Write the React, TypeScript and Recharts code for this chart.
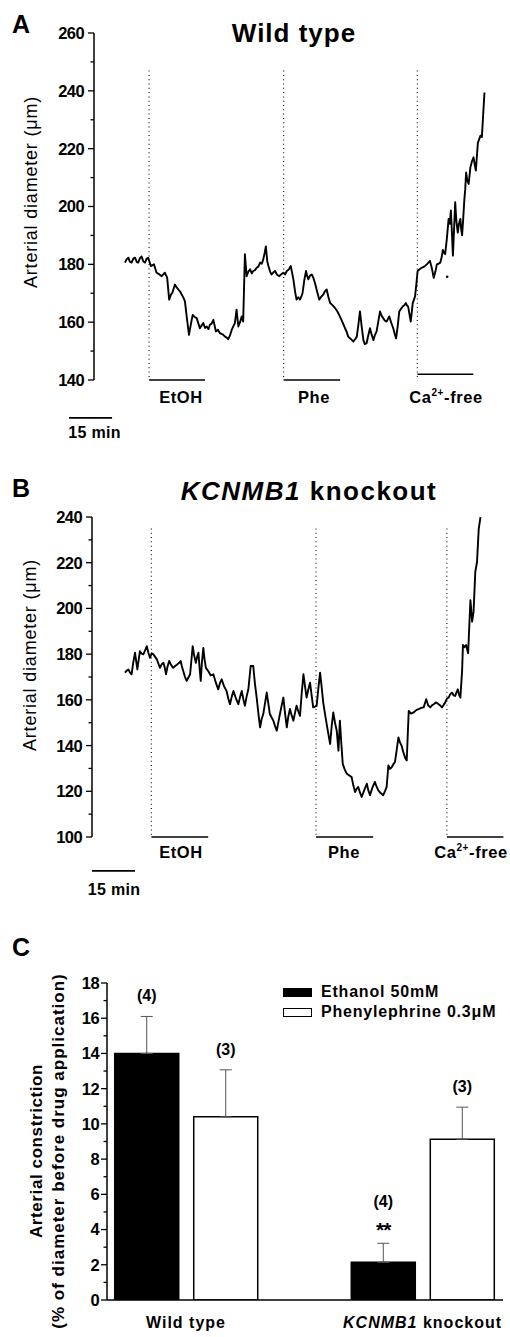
import React from 'react'
import {
  LineChart, Line, XAxis, YAxis, ReferenceLine, ReferenceDot,
  BarChart, Bar, ErrorBar, LabelList, Legend,
} from 'recharts'

const FONT = '"Liberation Sans", Arial, Helvetica, sans-serif'

// Panel A: wild type trace, [time (min), diameter (µm)]
const wildTypeTrace = [
  [10.8, 180.6], [11.4, 181.8], [12.0, 182.3], [12.5, 180.9], [13.1, 180.6], [13.7, 182.0], [14.3, 182.3],
  [14.9, 180.8], [15.4, 180.6], [16.0, 182.1], [16.6, 182.7], [17.2, 181.0], [17.8, 180.6], [18.3, 181.9],
  [18.9, 182.3], [19.8, 179.4], [20.9, 180.0], [21.8, 177.1], [22.7, 176.6], [23.6, 175.9], [24.7, 177.1],
  [25.5, 175.4], [26.2, 167.8], [26.8, 169.5], [27.3, 170.1], [28.2, 173.0], [28.8, 172.0], [29.4, 171.3],
  [30.0, 170.6], [30.6, 169.5], [31.2, 168.4], [31.7, 167.2], [32.3, 162.0], [33.1, 155.6], [33.8, 159.5],
  [34.4, 162.5], [35.1, 161.8], [35.8, 161.4], [36.4, 159.5], [36.9, 157.9], [37.5, 158.8], [38.1, 159.7],
  [38.7, 158.0], [39.3, 158.5], [39.9, 157.6], [40.4, 159.1], [41.0, 159.5], [41.6, 160.8], [42.5, 156.8],
  [43.2, 157.4], [43.9, 156.2], [44.8, 155.8], [45.7, 155.0], [46.3, 154.6], [46.8, 154.1], [47.4, 155.4],
  [48.0, 157.3], [48.6, 158.6], [49.1, 159.7], [49.7, 164.3], [50.3, 158.5], [50.9, 160.0], [51.5, 162.0],
  [52.0, 160.2], [52.6, 183.5], [53.2, 175.9], [53.8, 177.5], [54.4, 178.3], [55.0, 176.9], [55.5, 177.7],
  [56.1, 178.0], [56.7, 178.8], [57.3, 179.2], [57.9, 180.6], [58.5, 180.2], [59.0, 181.7], [59.5, 184.0],
  [59.9, 186.2], [60.4, 181.0], [60.8, 179.4], [61.4, 177.4], [61.9, 176.5], [62.5, 177.2], [63.1, 177.7],
  [63.8, 176.4], [64.6, 175.9], [65.3, 176.6], [66.0, 177.1], [66.6, 176.5], [67.2, 177.7], [67.9, 178.2],
  [68.6, 179.4], [69.5, 174.8], [70.1, 170.5], [70.6, 167.8], [71.2, 168.6], [71.8, 167.8], [72.3, 168.9],
  [72.7, 170.1], [73.3, 174.5], [73.9, 177.7], [74.3, 176.0], [74.7, 174.8], [75.3, 176.1], [75.9, 176.5],
  [76.5, 175.2], [77.0, 173.6], [77.8, 170.4], [78.5, 167.8], [79.2, 168.8], [79.9, 169.5], [80.5, 170.7],
  [81.1, 171.3], [81.7, 168.7], [82.3, 166.6], [83.2, 165.8], [84.0, 164.9], [84.9, 163.6], [85.7, 162.0],
  [86.6, 160.0], [87.5, 157.9], [88.1, 156.6], [88.6, 155.0], [89.5, 154.2], [90.4, 153.3], [91.0, 154.1],
  [91.6, 155.0], [92.2, 159.5], [92.7, 163.7], [93.3, 158.5], [93.9, 153.8], [94.4, 152.4], [95.0, 152.7],
  [95.6, 155.4], [96.2, 157.9], [96.8, 155.6], [97.4, 153.8], [97.9, 155.5], [98.5, 156.8], [99.1, 160.3],
  [99.7, 163.7], [100.2, 162.3], [100.8, 161.4], [101.4, 160.5], [102.0, 160.2], [102.9, 162.0], [103.6, 159.8],
  [104.3, 157.9], [104.8, 156.0], [105.3, 154.4], [105.9, 159.0], [106.4, 163.7], [107.0, 164.6], [107.6, 165.4],
  [108.2, 165.9], [108.7, 166.6], [109.1, 165.8], [109.5, 165.4], [110.0, 162.5], [110.4, 160.2], [110.8, 163.8],
  [111.1, 166.6], [111.9, 168.9], [112.4, 173.5], [112.8, 177.7], [113.5, 178.3], [114.2, 178.8], [115.1, 179.2],
  [116.0, 180.0], [117.1, 181.2], [117.8, 178.5], [118.4, 175.3], [119.0, 177.5], [119.5, 180.0], [120.1, 180.2],
  [120.7, 180.6], [121.2, 182.5], [121.6, 185.0], [122.0, 184.0], [122.4, 183.5], [123.0, 189.0], [123.6, 195.7],
  [124.0, 194.0], [124.4, 198.6], [124.8, 190.0], [125.1, 183.0], [125.5, 192.0], [125.9, 201.5], [126.3, 195.0],
  [126.8, 191.0], [127.2, 194.0], [127.7, 195.7], [128.0, 192.0], [128.3, 190.0], [128.7, 196.0], [129.1, 202.6],
  [129.4, 206.0], [129.7, 211.8], [130.1, 209.0], [130.6, 207.8], [131.2, 213.6], [131.7, 215.5], [132.3, 217.0],
  [132.7, 214.5], [133.1, 212.4], [133.8, 222.0], [134.7, 224.5], [135.2, 224.0], [135.6, 231.0], [136.1, 239.4],
]

// Panel B: KCNMB1 knockout trace, [time (min), diameter (µm)]
const knockoutTrace = [
  [11.5, 171.9], [12.1, 172.8], [12.7, 173.3], [13.2, 172.0], [13.8, 171.2], [14.4, 176.5], [15.0, 180.6],
  [15.8, 173.3], [16.7, 181.3], [17.3, 180.2], [17.9, 179.9], [18.5, 181.6], [19.1, 183.5], [19.6, 180.8],
  [20.2, 178.4], [20.8, 180.4], [21.4, 179.9], [22.0, 178.8], [22.6, 177.7], [23.1, 176.0], [23.7, 174.0],
  [24.3, 175.6], [24.9, 176.2], [25.4, 173.9], [25.8, 171.2], [26.3, 174.5], [26.9, 177.0], [27.6, 175.2],
  [28.3, 174.0], [29.0, 174.8], [29.7, 175.5], [30.3, 176.1], [30.9, 177.0], [31.3, 174.8], [31.8, 172.6],
  [32.4, 170.1], [33.0, 168.3], [33.6, 169.8], [34.2, 171.2], [35.1, 183.5], [35.6, 179.5], [36.2, 176.2],
  [36.6, 178.6], [37.1, 180.6], [37.5, 174.0], [37.9, 168.3], [38.3, 176.2], [38.8, 182.7], [39.2, 178.0],
  [39.7, 174.0], [40.5, 172.6], [41.4, 170.7], [42.3, 171.2], [43.2, 167.4], [44.0, 164.6], [44.6, 167.3],
  [45.2, 169.0], [46.0, 166.0], [46.9, 163.9], [47.5, 160.6], [48.1, 158.1], [48.7, 161.3], [49.3, 163.9],
  [50.2, 160.5], [51.0, 158.1], [51.6, 161.2], [52.2, 163.9], [52.8, 160.0], [53.3, 157.4], [53.9, 161.5],
  [54.5, 164.6], [55.3, 174.8], [56.2, 174.8], [56.8, 167.0], [57.4, 161.0], [58.0, 154.0], [58.6, 148.0],
  [59.1, 151.5], [59.7, 153.8], [60.3, 158.5], [60.9, 163.2], [61.5, 158.0], [62.0, 153.8], [62.6, 152.3],
  [63.2, 150.9], [63.8, 148.5], [64.4, 146.5], [65.0, 150.5], [65.5, 153.8], [66.1, 157.5], [66.7, 161.0],
  [67.3, 154.0], [67.9, 148.0], [68.4, 152.5], [69.0, 156.0], [69.6, 153.2], [70.2, 150.9], [70.8, 154.5],
  [71.3, 157.4], [71.9, 155.0], [72.5, 153.0], [73.1, 163.0], [73.7, 171.2], [74.3, 165.5], [74.8, 161.0],
  [75.4, 164.5], [76.0, 167.5], [76.6, 161.5], [77.1, 156.7], [77.7, 157.0], [78.3, 157.4], [78.9, 165.0],
  [79.5, 171.9], [80.1, 165.0], [80.6, 158.8], [81.2, 154.0], [81.8, 149.4], [82.4, 145.0], [83.0, 140.7],
  [83.5, 148.0], [84.1, 154.5], [84.7, 150.0], [85.3, 146.5], [85.9, 137.8], [86.4, 150.9], [86.9, 141.0],
  [87.4, 132.0], [88.1, 129.5], [88.8, 127.7], [89.6, 127.0], [90.5, 126.2], [91.1, 122.5], [91.7, 119.7],
  [92.2, 121.0], [92.8, 121.9], [93.4, 119.5], [94.0, 117.5], [94.9, 120.5], [95.8, 123.3], [96.3, 120.5],
  [96.9, 118.3], [97.7, 121.5], [98.6, 124.1], [99.2, 122.0], [99.8, 120.4], [100.6, 119.2], [101.5, 118.3],
  [102.1, 120.0], [102.7, 121.9], [103.3, 131.3], [103.9, 129.8], [104.5, 130.6], [105.0, 131.8], [105.6, 132.8],
  [106.2, 138.0], [106.8, 143.6], [107.3, 141.5], [107.9, 140.0], [108.3, 138.0], [108.7, 136.4], [109.2, 134.5],
  [109.7, 133.5], [110.4, 155.2], [111.2, 154.0], [112.1, 154.5], [113.0, 155.5], [113.8, 155.9], [114.7, 156.5],
  [115.6, 156.7], [116.5, 160.3], [117.2, 157.5], [117.9, 156.7], [118.5, 157.6], [119.1, 158.1], [120.0, 158.9],
  [120.8, 158.1], [121.4, 157.5], [122.0, 156.7], [122.6, 157.9], [123.1, 158.8], [123.7, 160.5], [124.3, 161.0],
  [124.9, 162.5], [125.5, 163.2], [126.0, 162.0], [126.6, 161.7], [127.1, 163.5], [127.5, 164.6], [128.0, 162.0],
  [128.4, 161.0], [129.0, 172.6], [129.3, 184.0], [129.8, 183.0], [130.4, 184.0], [131.1, 180.4], [131.9, 203.6],
  [132.5, 194.2], [133.0, 198.6], [133.6, 216.0], [134.2, 220.3], [134.8, 234.8], [135.4, 239.9],
]

const wtTicks = [140, 150, 160, 170, 180, 190, 200, 210, 220, 230, 240, 250, 260]
const wtTickLabels = [140, 160, 180, 200, 220, 240, 260]
const koTicks = [100, 110, 120, 130, 140, 150, 160, 170, 180, 190, 200, 210, 220, 230, 240]
const koTickLabels = [100, 120, 140, 160, 180, 200, 220, 240]

// drug applications (min) and the level of the bar drawn under the trace
const wtApplications = [
  { start: 19.2, end: 38.7, level: 140 },
  { start: 66.1, end: 85.8, level: 140 },
  { start: 112.7, end: 132.2, level: 142 },
]
const koApplications = [
  { start: 20.7, end: 40.5, level: 100 },
  { start: 78.1, end: 98.0, level: 100 },
  { start: 123.7, end: 143.4, level: 100 },
]

// Panel C
const groups = ['Wild type', 'KCNMB1 knockout']
const ethanolMean = [14.0, 2.14]
const ethanolSem = [2.1, 1.08]
const ethanolN = [4, 4]
const ethanolMark = ['', '**']
const phenylMean = [10.4, 9.13]
const phenylSem = [2.67, 1.82]
const phenylN = [3, 3]
const barTicks = [0, 1, 2, 3, 4, 5, 6, 7, 8, 9, 10, 11, 12, 13, 14, 15, 16, 17, 18]
const barTickLabels = [0, 2, 4, 6, 8, 10, 12, 14, 16, 18]

const barData = groups.map((g, i) => ({
  group: g,
  pos: i + 1,
  ethanol: ethanolMean[i],
  ethanolErr: [0, ethanolSem[i]],
  phenyl: phenylMean[i],
  phenylErr: [0, phenylSem[i]],
}))

const makeYTick = (labelled: number[], gap: number) => (props: any) => {
  const { x, y, payload } = props
  const major = labelled.includes(payload.value)
  return (
    <g>
      <line x1={x - (major ? 6 : 3.5)} y1={y} x2={x} y2={y} stroke="#000" strokeWidth={1.3} />
      {major && (
        <text x={x - gap} y={y} dy="0.36em" textAnchor="end" fontFamily={FONT}
          fontSize={16.5} fontWeight="bold" letterSpacing={-0.6} fill="#000">
          {payload.value}
        </text>
      )}
    </g>
  )
}

const GroupTick = (props: any) => {
  const { x, y, payload } = props
  const name = groups[Math.round(payload.value) - 1]
  if (!name) return null
  const italic = name.startsWith('KCNMB1')
  return (
    <text x={x} y={y + 28} textAnchor="middle" fontFamily={FONT} fontSize={16}
      fontWeight="bold" letterSpacing={1} fill="#000">
      {italic ? (
        <>
          <tspan fontStyle="italic">KCNMB1</tspan>
          <tspan> knockout</tspan>
        </>
      ) : name}
    </text>
  )
}

const makeCountLabel = (means: number[], sems: number[], counts: number[], marks: string[]) => (props: any) => {
  const vb = props.viewBox && props.viewBox.width !== undefined ? props.viewBox : props
  const { x, y, width, height } = vb
  const i = props.index
  const perUnit = Math.abs(height) / means[i]
  const errTop = y - sems[i] * perUnit
  const cx = x + width / 2
  const mark = marks[i]
  return (
    <g>
      {mark && (
        <text x={cx} y={errTop - 6} textAnchor="middle" fontFamily={FONT} fontSize={21}
          fontWeight="bold" letterSpacing={-1} fill="#000">{mark}</text>
      )}
      <text x={cx} y={mark ? errTop - 36 : errTop - 15} textAnchor="middle" fontFamily={FONT}
        fontSize={16} fontWeight="bold" fill="#000">({counts[i]})</text>
    </g>
  )
}

const LegendContent = ({ payload }: any) => (
  <div style={{ fontFamily: FONT }}>
    {(payload || []).map((p: any) => (
      <div key={p.value} style={{ display: 'flex', alignItems: 'center', height: 20 }}>
        <span style={{
          display: 'inline-block', width: 27, height: 7, background: p.color,
          border: '1.5px solid #000', marginRight: 9,
        }} />
        <span style={{ fontSize: 16, fontWeight: 'bold', letterSpacing: 0.8, color: '#000' }}>{p.value}</span>
      </div>
    ))}
  </div>
)

interface TraceProps {
  trace: number[][]
  ticks: number[]
  tickLabels: number[]
  yDomain: [number, number]
  applications: { start: number; end: number; level: number }[]
  dottedTop: number
  scaleBar: { start: number; end: number; level: number }
  height: number
  margin: { top: number; right: number; bottom: number; left: number }
  strayPoint?: [number, number]
}

function TracePanel({ trace, ticks, tickLabels, yDomain, applications, dottedTop, scaleBar, height, margin, strayPoint }: TraceProps) {
  const data = trace.map(([t, d]) => ({ t, d }))
  return (
    <LineChart width={510} height={height} data={data} margin={margin}>
      <XAxis type="number" dataKey="t" domain={[0, 145]} hide />
      <YAxis
        type="number" domain={yDomain} ticks={ticks} interval={0} width={60}
        tick={makeYTick(tickLabels, 10)} tickLine={false} tickSize={0} tickMargin={0}
        axisLine={{ stroke: '#000', strokeWidth: 1.5 }} allowDataOverflow
      />
      {applications.map((a, i) => (
        <ReferenceLine key={`dot-${i}`} segment={[{ x: a.start, y: dottedTop }, { x: a.start, y: yDomain[0] }]}
          stroke="#222" strokeWidth={1.2} strokeDasharray="1 3.3" ifOverflow="visible" />
      ))}
      {applications.map((a, i) => (
        <ReferenceLine key={`bar-${i}`} segment={[{ x: a.start, y: a.level }, { x: a.end, y: a.level }]}
          stroke="#000" strokeWidth={1.6} ifOverflow="visible" />
      ))}
      <ReferenceLine segment={[{ x: scaleBar.start, y: scaleBar.level }, { x: scaleBar.end, y: scaleBar.level }]}
        stroke="#000" strokeWidth={1.6} ifOverflow="visible" />
      {strayPoint && (
        <ReferenceDot x={strayPoint[0]} y={strayPoint[1]} r={1.3} fill="#000" stroke="none" />
      )}
      <Line type="linear" dataKey="d" stroke="#000" strokeWidth={1.9} dot={false}
        isAnimationActive={false} strokeLinejoin="round" />
    </LineChart>
  )
}

const txt = { fontFamily: FONT, fill: '#000' }

export default function App() {
  return (
    <div style={{ position: 'absolute', left: 0, top: 0, width: 510, height: 1337, background: '#fff', fontFamily: FONT }}>
      <div style={{ position: 'absolute', left: 0, top: 0 }}>
        <TracePanel
          trace={wildTypeTrace} ticks={wtTicks} tickLabels={wtTickLabels} yDomain={[140, 260]}
          applications={wtApplications} dottedTop={247} scaleBar={{ start: -8.7, end: 6.3, level: 126.9 }}
          height={445} margin={{ top: 33, right: 0, bottom: 65, left: 34 }} strayPoint={[123.1, 175.7]}
        />
      </div>
      <div style={{ position: 'absolute', left: 0, top: 460 }}>
        <TracePanel
          trace={knockoutTrace} ticks={koTicks} tickLabels={koTickLabels} yDomain={[100, 240]}
          applications={koApplications} dottedTop={235} scaleBar={{ start: 0, end: 15, level: 85.2 }}
          height={422} margin={{ top: 57, right: 2, bottom: 45, left: 32 }}
        />
      </div>
      <div style={{ position: 'absolute', left: 0, top: 940 }}>
        <BarChart width={510} height={400} data={barData} barSize={64} barGap={15}
          margin={{ top: 43, right: 7, bottom: 10, left: 67 }}>
          <XAxis type="number" dataKey="pos" domain={[0.666, 2.34]} ticks={[1, 2]} interval={0}
            tick={GroupTick} tickLine={false} tickSize={0} tickMargin={0} height={30}
            axisLine={{ stroke: '#000', strokeWidth: 1.5 }} allowDataOverflow />
          <YAxis type="number" domain={[0, 18]} ticks={barTicks} interval={0} width={40}
            tick={makeYTick(barTickLabels, 8)} tickLine={false} tickSize={0} tickMargin={0}
            axisLine={{ stroke: '#000', strokeWidth: 1.5 }} allowDataOverflow />
          <Legend layout="vertical" align="center" verticalAlign="middle" content={LegendContent}
            wrapperStyle={{ left: 283, top: 42, width: 'auto' }} />
          <Bar dataKey="ethanol" name="Ethanol 50mM" fill="#000" stroke="#000" strokeWidth={1.5}
            isAnimationActive={false}>
            <ErrorBar dataKey="ethanolErr" direction="y" width={6} stroke="#555" strokeWidth={1}
              isAnimationActive={false} />
            <LabelList dataKey="ethanol" content={makeCountLabel(ethanolMean, ethanolSem, ethanolN, ethanolMark)} />
          </Bar>
          <Bar dataKey="phenyl" name="Phenylephrine 0.3μM" fill="#fff" stroke="#000" strokeWidth={1.5}
            isAnimationActive={false}>
            <ErrorBar dataKey="phenylErr" direction="y" width={6} stroke="#555" strokeWidth={1}
              isAnimationActive={false} />
            <LabelList dataKey="phenyl" content={makeCountLabel(phenylMean, phenylSem, phenylN, ['', ''])} />
          </Bar>
        </BarChart>
      </div>

      <svg width={510} height={1337} style={{ position: 'absolute', left: 0, top: 0, pointerEvents: 'none' }}>
        {/* panel A */}
        <text x={12} y={33} fontSize={25} fontWeight="bold" {...txt}>A</text>
        <text x={294} y={42} fontSize={26} fontWeight="bold" letterSpacing={1} textAnchor="middle" {...txt}>Wild type</text>
        <text x={31} y={192} fontSize={18} letterSpacing={0.8} textAnchor="middle" dominantBaseline="central"
          transform="rotate(-90 31 192)" {...txt}>Arterial diameter (μm)</text>
        <text x={181} y={403} fontSize={16.5} fontWeight="bold" letterSpacing={0.6} textAnchor="middle" {...txt}>EtOH</text>
        <text x={314} y={403} fontSize={16.5} fontWeight="bold" letterSpacing={0.6} textAnchor="middle" {...txt}>Phe</text>
        <text x={446} y={403} fontSize={16.5} fontWeight="bold" letterSpacing={0.6} textAnchor="middle" {...txt}>
          Ca<tspan fontSize={10} dy={-7}>2+</tspan><tspan dy={7}>-free</tspan>
        </text>
        <text x={94.5} y={438} fontSize={16} fontWeight="bold" letterSpacing={0.3} textAnchor="middle" {...txt}>15 min</text>

        {/* panel B */}
        <text x={12} y={497} fontSize={25} fontWeight="bold" {...txt}>B</text>
        <text x={309} y={500} fontSize={26} fontWeight="bold" letterSpacing={1.5} textAnchor="middle" {...txt}>
          <tspan fontStyle="italic">KCNMB1</tspan> knockout
        </text>
        <text x={30} y={655} fontSize={18} letterSpacing={0.8} textAnchor="middle" dominantBaseline="central"
          transform="rotate(-90 30 655)" {...txt}>Arterial diameter (μm)</text>
        <text x={181} y={858} fontSize={16.5} fontWeight="bold" letterSpacing={0.6} textAnchor="middle" {...txt}>EtOH</text>
        <text x={344} y={858} fontSize={16.5} fontWeight="bold" letterSpacing={0.6} textAnchor="middle" {...txt}>Phe</text>
        <text x={471} y={858} fontSize={16.5} fontWeight="bold" letterSpacing={0.6} textAnchor="middle" {...txt}>
          Ca<tspan fontSize={10} dy={-7}>2+</tspan><tspan dy={7}>-free</tspan>
        </text>
        <text x={114} y={895} fontSize={16} fontWeight="bold" letterSpacing={0.3} textAnchor="middle" {...txt}>15 min</text>

        {/* panel C */}
        <text x={12} y={956} fontSize={25} fontWeight="bold" {...txt}>C</text>
        <text x={36} y={1151} fontSize={17} fontWeight="bold" letterSpacing={0.6} textAnchor="middle" dominantBaseline="central"
          transform="rotate(-90 36 1151)" {...txt}>Arterial constriction</text>
        <text x={58.5} y={1151} fontSize={17} fontWeight="bold" letterSpacing={1} textAnchor="middle" dominantBaseline="central"
          transform="rotate(-90 58.5 1151)" {...txt}>(% of diameter before drug application)</text>
      </svg>
    </div>
  )
}
